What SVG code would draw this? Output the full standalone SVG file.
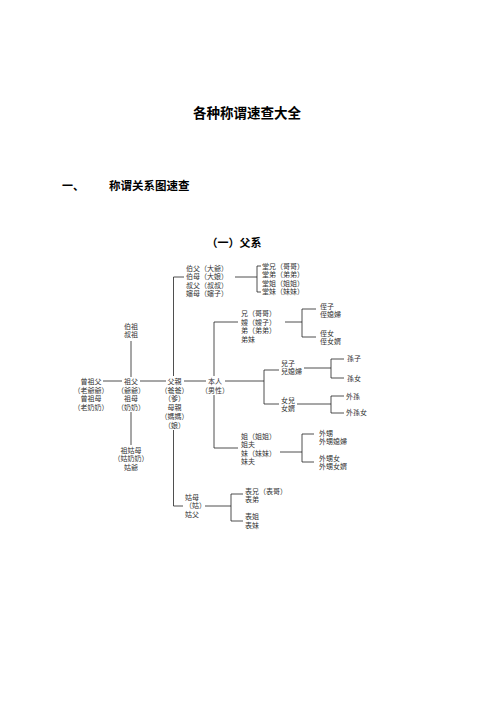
<svg xmlns="http://www.w3.org/2000/svg" width="496" height="702" viewBox="0 0 496 702">
<style>
.t{font-family:"Noto Sans CJK TC","Noto Sans CJK SC",sans-serif;font-size:7px;fill:#333}
.c{text-anchor:middle}
.h{font-family:"Noto Sans CJK SC",sans-serif;font-weight:bold;fill:#000}
#connectors path{fill:none;stroke:#222;stroke-width:0.8}
</style>
<rect width="496" height="702" fill="#fff"/>
<text class="h" x="247" y="118" font-size="13.5" text-anchor="middle">各种称谓速查大全</text>
<text class="h" x="62" y="190" font-size="11">一、</text>
<text class="h" x="109" y="190" font-size="11.5">称谓关系图速查</text>
<text class="h" x="234" y="247" font-size="11" text-anchor="middle">（一）父系</text>

<g id="connectors">
<path d="M184 277 H173.5 V376"/>
<path d="M235 277 H257"/>
<path d="M261 266 H257 V292 H261"/>
<path d="M131 341 V377"/>
<path d="M103 381 H122"/>
<path d="M140 381 H166"/>
<path d="M184 381 H206"/>
<path d="M225 381 H264"/>
<path d="M279 370 H264 V404 H279"/>
<path d="M238 322 H214 V376"/>
<path d="M214 395 V448 H238"/>
<path d="M285 322 H302"/>
<path d="M316 309 H302 V337 H316"/>
<path d="M304 368 H331"/>
<path d="M344 359 H331 V378 H344"/>
<path d="M297 404 H331"/>
<path d="M344 396 H331 V413 H344"/>
<path d="M280 452 H302"/>
<path d="M314 434 H302 V462 H314"/>
<path d="M131 412 V445"/>
<path d="M173.5 430 V506 H183"/>
<path d="M205 506 H231"/>
<path d="M243 494 H231 V521 H243"/>
</g>

<g id="bofu" class="t">
<text x="186" y="270.7">伯父（大爺）</text>
<text x="186" y="279.2">伯母（大娘）</text>
<text x="186" y="287.7">叔父（叔叔）</text>
<text x="186" y="296.2">嬸母（嬸子）</text>
</g>
<g id="tang" class="t">
<text x="262" y="268.7">堂兄（哥哥）</text>
<text x="262" y="277.2">堂弟（弟弟）</text>
<text x="262" y="285.7">堂姐（姐姐）</text>
<text x="262" y="294.2">堂妹（妹妹）</text>
</g>
<g id="bozu" class="t c">
<text x="131" y="328.7">伯祖</text>
<text x="131" y="337.2">叔祖</text>
</g>
<g id="xiong" class="t">
<text x="241" y="316.2">兄（哥哥）</text>
<text x="241" y="324.7">嫂（嫂子）</text>
<text x="241" y="333.2">弟（弟弟）</text>
<text x="241" y="341.7">弟妹</text>
</g>
<g id="zhi" class="t">
<text x="320" y="308.7">侄子</text>
<text x="320" y="317.2">侄媳婦</text>
<text x="320" y="335.7">侄女</text>
<text x="320" y="344.2">侄女婿</text>
</g>
<g id="zengzu" class="t c">
<text x="91" y="383.7">曾祖父</text>
<text x="91" y="392.5">（老爺爺）</text>
<text x="91" y="401.3">曾祖母</text>
<text x="91" y="410.1">（老奶奶）</text>
</g>
<g id="zufu" class="t c">
<text x="131" y="383.7">祖父</text>
<text x="131" y="392.5">（爺爺）</text>
<text x="131" y="401.3">祖母</text>
<text x="131" y="410.1">（奶奶）</text>
</g>
<g id="fuqin" class="t c">
<text x="174.5" y="383.7">父親</text>
<text x="174.5" y="392.5">（爸爸）</text>
<text x="174.5" y="401.3">（爹）</text>
<text x="174.5" y="410.1">母親</text>
<text x="174.5" y="418.9">（媽媽）</text>
<text x="174.5" y="427.7">（娘）</text>
</g>
<g id="benren" class="t c">
<text x="215" y="383.7">本人</text>
<text x="215" y="392.5">（男性）</text>
</g>
<g id="erzi" class="t">
<text x="281" y="365.7">兒子</text>
<text x="281" y="374.2">兒媳婦</text>
</g>
<g id="sun" class="t">
<text x="347" y="360.7">孫子</text>
<text x="347" y="380.7">孫女</text>
</g>
<g id="nver" class="t">
<text x="281" y="402.7">女兒</text>
<text x="281" y="411.2">女婿</text>
</g>
<g id="waisun" class="t">
<text x="346" y="398.7">外孫</text>
<text x="346" y="414.7">外孫女</text>
</g>
<g id="zugumu" class="t c">
<text x="131" y="452.7">祖姑母</text>
<text x="131" y="461.2">（姑奶奶）</text>
<text x="131" y="469.7">姑爺</text>
</g>
<g id="jie" class="t">
<text x="241" y="438.7">姐（姐姐）</text>
<text x="241" y="447.2">姐夫</text>
<text x="241" y="455.7">妹（妹妹）</text>
<text x="241" y="464.2">妹夫</text>
</g>
<g id="waisheng" class="t">
<text x="319" y="435.7">外甥</text>
<text x="319" y="444.2">外甥媳婦</text>
<text x="319" y="460.7">外甥女</text>
<text x="319" y="469.2">外甥女婿</text>
</g>
<g id="gumu" class="t">
<text x="185" y="499.7">姑母</text>
<text x="185" y="508.2">（姑）</text>
<text x="185" y="516.7">姑父</text>
</g>
<g id="biao" class="t">
<text x="245" y="493.7">表兄（表哥）</text>
<text x="245" y="502.2">表弟</text>
<text x="245" y="519.2">表姐</text>
<text x="245" y="527.7">表妹</text>
</g>
</svg>
